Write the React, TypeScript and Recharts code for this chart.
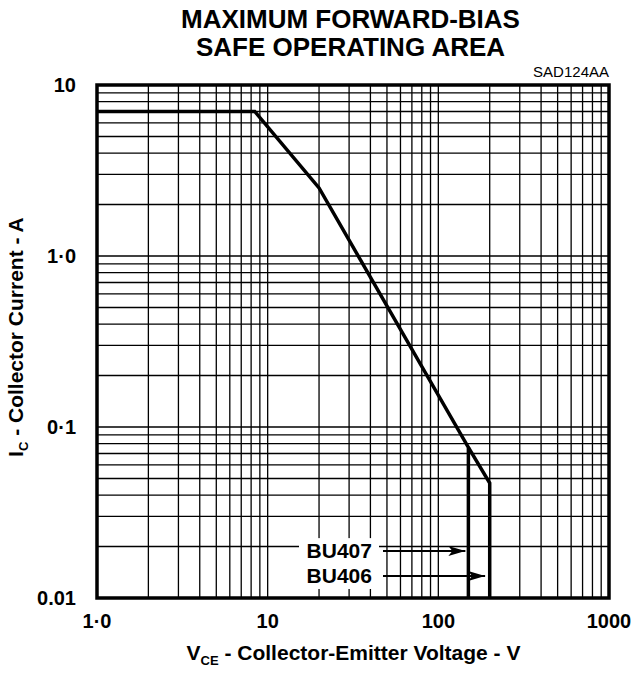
import React from 'react'
import { LineChart, Line, XAxis, YAxis, CartesianGrid, ReferenceArea } from 'recharts'

// safe operating area boundary (BU407 cuts off at 150 V, BU406 continues to 200 V)
const voltageBU407 = [1, 8.4, 20, 150, 150]
const currentBU407 = [7, 7, 2.5, 0.076, 0.01]
const voltageBU406 = [150, 200, 200]
const currentBU406 = [0.076, 0.047, 0.01]

// pointer arrows for the device labels
const arrow407V = [47.4, 144]
const arrow407I = [0.0188, 0.0188]
const arrow406V = [47.4, 188]
const arrow406I = [0.01345, 0.01345]

const xTicks = [1, 2, 3, 4, 5, 6, 7, 8, 9, 10, 20, 30, 40, 50, 60, 70, 80, 90, 100, 200, 300, 400, 500, 600, 700, 800, 900, 1000]
const yTicks = [0.01, 0.02, 0.03, 0.04, 0.05, 0.06, 0.07, 0.08, 0.09, 0.1, 0.2, 0.3, 0.4, 0.5, 0.6, 0.7, 0.8, 0.9, 1, 2, 3, 4, 5, 6, 7, 8, 9, 10]
const xLabels: Record<number, string> = { 1: '1·0', 10: '10', 100: '100', 1000: '1000' }
const yLabels: Record<number, string> = { 0.01: '0.01', 0.1: '0·1', 1: '1·0', 10: '10' }

const pts = (xs: number[], ys: number[]) => xs.map((v, i) => ({ v, i: ys[i] }))

const FONT = '"Liberation Sans", Arial, Helvetica, sans-serif'

function XTick({ x, y, payload }: any) {
  const t = xLabels[payload.value]
  if (!t) return <g />
  return (
    <text x={x} y={y + 22} textAnchor="middle" fontFamily={FONT} fontWeight="bold" fontSize={20} fill="#000">{t}</text>
  )
}

function YTick({ x, y, payload }: any) {
  const t = yLabels[payload.value]
  if (!t) return <g />
  return (
    <text x={x - 13} y={y + 7} textAnchor="end" fontFamily={FONT} fontWeight="bold" fontSize={20} fill="#000">{t}</text>
  )
}

function arrowDot(label: string) {
  return (p: any) => {
    const { cx, cy, index } = p
    if (index === 0) {
      return (
        <g key={label + index}>
          <rect x={cx - 84} y={cy - 13} width={80} height={26} fill="#fff" />
          <text x={cx - 11} y={cy + 7} textAnchor="end" fontFamily={FONT} fontWeight="bold" fontSize={21} fill="#000">{label}</text>
        </g>
      )
    }
    return (
      <polygon key={label + index} points={`${cx},${cy} ${cx - 17},${cy - 5} ${cx - 13},${cy} ${cx - 17},${cy + 5}`} fill="#000" />
    )
  }
}

export default function App() {
  return (
    <div style={{ position: 'absolute', left: 0, top: 0, width: 633, height: 677, background: '#fff', fontFamily: FONT }}>
      <div style={{ position: 'absolute', left: 34, width: 633, top: 5, textAlign: 'center', fontWeight: 'bold', fontSize: 26, lineHeight: '28px' }}>
        MAXIMUM FORWARD-BIAS<br />SAFE OPERATING AREA
      </div>
      <div style={{ position: 'absolute', right: 24, top: 63, fontSize: 15 }}>SAD124AA</div>
      <LineChart width={633} height={677} data={[]} margin={{ top: 85, right: 24, bottom: 49, left: 37 }}>
        <CartesianGrid stroke="#000" strokeWidth={1.3} strokeOpacity={1} />
        <XAxis dataKey="v" type="number" scale="log" domain={[1, 1000]} ticks={xTicks} allowDataOverflow
          axisLine={false} tickLine={false} height={30} tick={<XTick />} interval={0} />
        <YAxis dataKey="i" type="number" scale="log" domain={[0.01, 10]} ticks={yTicks} allowDataOverflow
          axisLine={false} tickLine={false} width={60} tick={<YTick />} interval={0} />
        <ReferenceArea x1={1} x2={1000} y1={0.01} y2={10} fill="none" stroke="#000" strokeWidth={3.5} ifOverflow="visible" />
        <Line data={pts(voltageBU407, currentBU407)} dataKey="i" stroke="#000" strokeWidth={3.5} dot={false} isAnimationActive={false} strokeLinejoin="miter" />
        <Line data={pts(voltageBU406, currentBU406)} dataKey="i" stroke="#000" strokeWidth={3.5} dot={false} isAnimationActive={false} strokeLinejoin="miter" />
        <Line data={pts(arrow407V, arrow407I)} dataKey="i" stroke="#000" strokeWidth={2} dot={arrowDot('BU407')} isAnimationActive={false} />
        <Line data={pts(arrow406V, arrow406I)} dataKey="i" stroke="#000" strokeWidth={2} dot={arrowDot('BU406')} isAnimationActive={false} />
      </LineChart>
      <div style={{ position: 'absolute', left: 37, width: 633, top: 641, textAlign: 'center', fontWeight: 'bold', fontSize: 21 }}>
        V<sub style={{ fontSize: 13 }}>CE</sub> - Collector-Emitter Voltage - V
      </div>
      <div style={{ position: 'absolute', left: 20, top: 333, width: 400, marginLeft: -200, marginTop: -13, textAlign: 'center', transform: 'rotate(-90deg)', fontWeight: 'bold', fontSize: 21, lineHeight: '26px' }}>
        I<sub style={{ fontSize: 13 }}>C</sub> - Collector Current - A
      </div>
    </div>
  )
}
